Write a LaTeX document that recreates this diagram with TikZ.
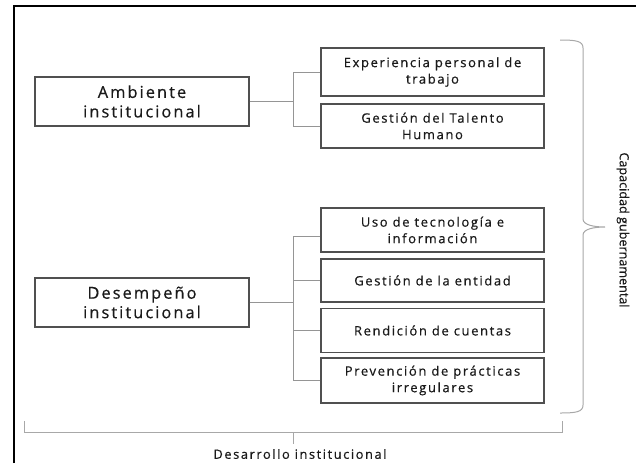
\documentclass[tikz,border=0pt]{standalone}
\usepackage{fontspec}
\setmainfont{Open Sans}
\newfontfamily\widefont[LetterSpace=12.5,FakeBold=0.5]{Open Sans}
\newfontfamily\capfont[FakeBold=0.3]{Open Sans}
\definecolor{boxline}{HTML}{505050}
\definecolor{connline}{HTML}{959595}
\definecolor{braceline}{HTML}{A8A8A8}
\definecolor{txt}{HTML}{1A1A1A}
\begin{document}
\begin{tikzpicture}[x=1pt,y=-1pt,
  mainbox/.style={draw=boxline,line width=1.2pt,minimum width=214pt,minimum height=49pt,align=center,text=txt,font=\widefont\fontsize{16.4}{19.5}\selectfont,inner sep=0pt},
  subbox/.style={draw=boxline,line width=1.2pt,minimum width=223pt,minimum height=44pt,align=center,text=txt,font=\widefont\fontsize{13}{16.5}\selectfont,inner sep=0pt},
  conn/.style={draw=connline,line width=0.9pt},
  bracestyle/.style={draw=braceline,line width=1pt},
  lbl/.style={inner sep=0pt,text=txt}]
\useasboundingbox (0,0) rectangle (636,463);
\fill[white] (0,0) rectangle (636,463);
\draw[black,line width=1.6pt] (14,463) -- (14,6) -- (636,6);
% main boxes
\node[mainbox] (amb) at (142,101.5) {Ambiente\\institucional};
\node[mainbox] (des) at (142,302.5) {Desempeño\\institucional};
% sub boxes
\node[subbox,minimum height=48pt] (e1) at (432.5,72) {Experiencia personal de\\trabajo};
\node[subbox] (e2) at (432.5,126) {Gestión del Talento\\Humano};
\node[subbox] (d1) at (432.5,230) {Uso de tecnología e\\información};
\node[subbox,minimum height=43pt] (d2) at (432.5,280.5) {Gestión de la entidad};
\node[subbox] (d3) at (432.5,330.5) {Rendición de cuentas};
\node[subbox,minimum height=45pt] (d4) at (432.5,380.5) {Prevención de prácticas\\irregulares};
% connectors
\coordinate (ja) at (293,101.5);
\coordinate (jd) at (293,302.5);
\draw[conn] (amb.east) -- (ja);
\draw[conn] (e1.west) -| (ja);
\draw[conn] (e2.west) -| (ja);
\draw[conn] (des.east) -- (jd);
\draw[conn] ([yshift=-6pt]d1.west) -| (jd);
\draw[conn] (d2.west) -| (jd);
\draw[conn] (d3.west) -| (jd);
\draw[conn] (d4.west) -| (jd);
% right brace
\coordinate (bt) at (560,40);
\coordinate (btip) at (605,227);
\coordinate (bb) at (560,413);
\draw[bracestyle] (bt) .. controls (576,40) and (583,41) .. (583,48) -- (583,219)
  .. controls (583,225) and (594,227) .. (btip)
  .. controls (594,227) and (583,229) .. (583,235) -- (583,405)
  .. controls (583,412) and (576,413) .. (bb);
\node[lbl,font=\capfont\fontsize{12.6}{14}\selectfont,rotate=-90] (cap) at (623,230) {Capacidad gubernamental};
% bottom bracket
\coordinate (bl) at (24,421);
\coordinate (br) at (562,421);
\coordinate (bm) at (293,432.5);
\draw[bracestyle] (bl) |- (bm) -| (br);
\draw[bracestyle] (bm) -- ++(0,11);
\node[lbl,font=\widefont\fontsize{12.8}{14}\selectfont] (dev) at (300,454) {Desarrollo institucional};
\end{tikzpicture}
\end{document}
